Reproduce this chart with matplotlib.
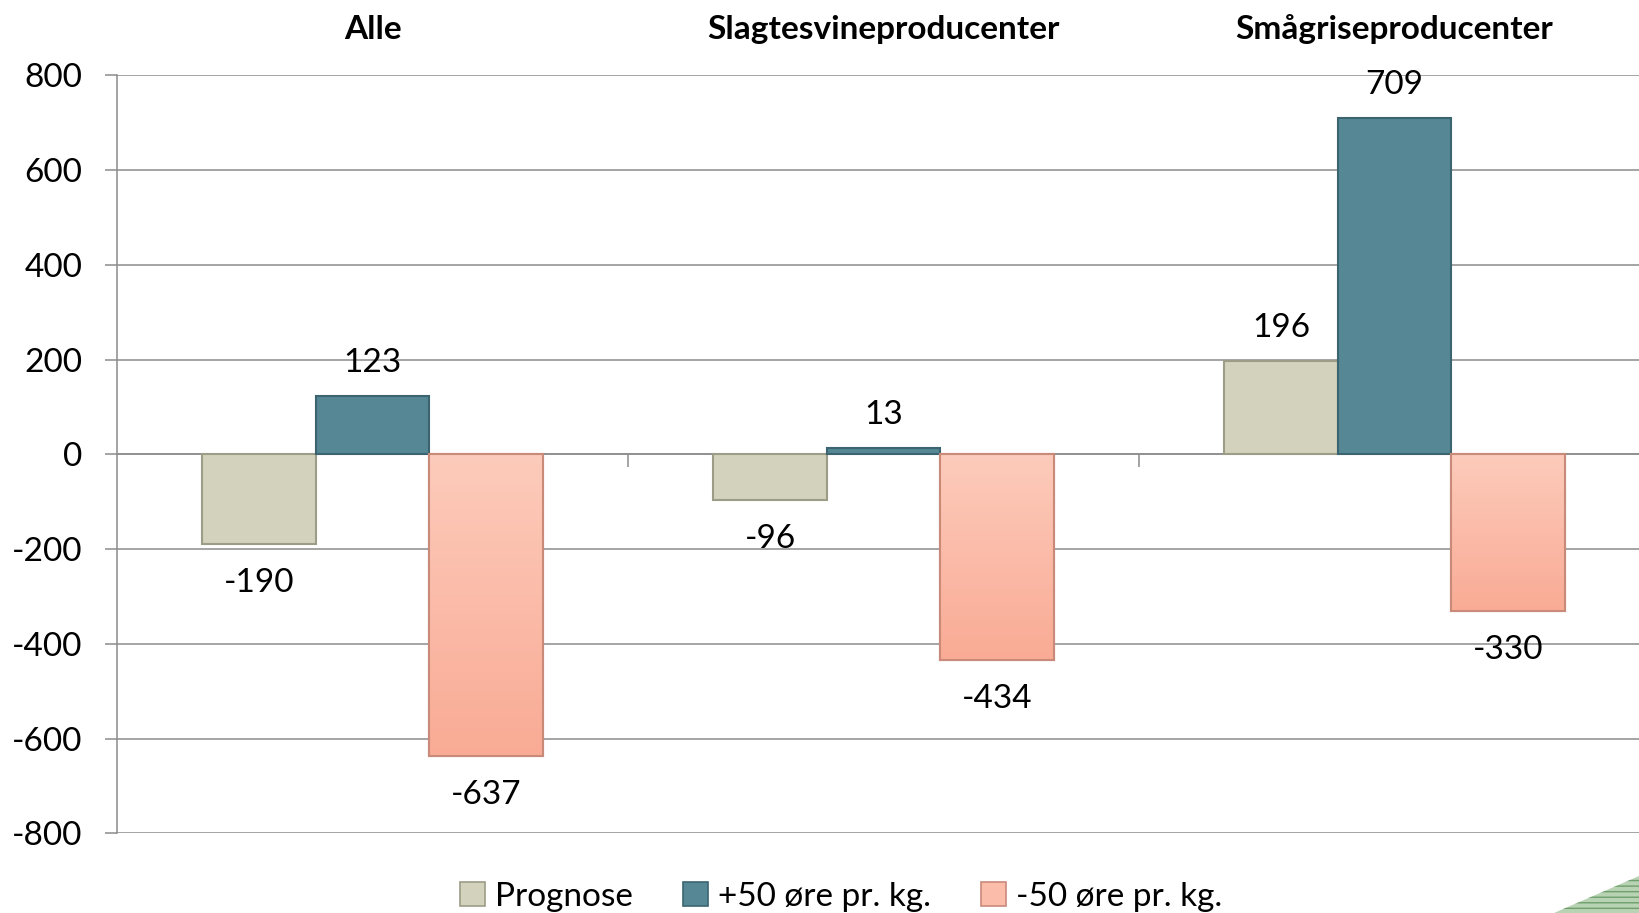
import numpy as np
import matplotlib.pyplot as plt
from matplotlib.patches import Polygon, Patch
from matplotlib.colors import LinearSegmentedColormap
from matplotlib.transforms import blended_transform_factory

plt.rcParams['font.family'] = ['Lato', 'DejaVu Sans']
plt.rcParams['hatch.color'] = "#6f9f6c"

groups = ["Alle", "Slagtesvineproducenter", "Smågriseproducenter"]
series = ["Prognose", "+50 øre pr. kg.", "-50 øre pr. kg."]
prognose = [-190, -96, 196]
plus50 = [123, 13, 709]
minus50 = [-637, -434, -330]
yticks = [-800, -600, -400, -200, 0, 200, 400, 600, 800]

faces = ["#d3d2bc", "#558894", "#fbbcaa"]
edges = ["#9d9c86", "#3b6470", "#c98a7a"]

fig = plt.figure(figsize=(16.39, 9.13), dpi=100)
ax = fig.add_axes([0.0714, 0.0872, 0.9353, 0.8303])

x = np.arange(len(groups))
w = 0.222
pink = LinearSegmentedColormap.from_list("pk", ["#fdcbbb", "#f9ab95"])
for k, vals in enumerate([prognose, plus50, minus50]):
    pos = x + (k - 1) * w
    bars = ax.bar(pos, vals, w, color=faces[k], edgecolor=edges[k],
                  linewidth=1.5, zorder=3, label=series[k])
    if k == 2:
        # soft vertical gradient on the pink bars, light near zero
        grad = np.linspace(0, 1, 256).reshape(-1, 1)
        for b in bars:
            x0, y0 = b.get_x(), b.get_y()
            im = ax.imshow(grad, cmap=pink, aspect="auto", origin="lower",
                           extent=[x0, x0 + b.get_width(), y0, y0 + b.get_height()],
                           zorder=3.1)
            im.set_clip_path(b)
            ax.bar(x0 + b.get_width() / 2, b.get_height(), b.get_width(),
                   fill=False, edgecolor=edges[k], linewidth=1.5, zorder=3.2)
    for px, v in zip(pos, vals):
        off = 24 if v >= 0 else -28
        ax.annotate(str(v), (px, v), xytext=(0, off), textcoords="offset points",
                    ha="center", va="center", fontsize=24, zorder=5)

ax.set_xlim(-0.5, 2.5)
ax.set_ylim(-800, 800)
ax.set_yticks(yticks)
ax.set_yticklabels([str(t) for t in yticks], fontsize=24)
ax.tick_params(axis="y", length=9, width=1.1, color="#8c8c8c", pad=16)
ax.grid(axis="y", color="#8c8c8c", linewidth=1.1, zorder=0)
ax.set_axisbelow(True)

ax.spines["top"].set_visible(False)
ax.spines["right"].set_visible(False)
ax.spines["left"].set_color("#8c8c8c")
ax.spines["left"].set_linewidth(1.1)
ax.spines["bottom"].set_position(("data", 0))
ax.spines["bottom"].set_color("#8c8c8c")
ax.spines["bottom"].set_linewidth(1.1)
ax.spines["bottom"].set_zorder(2)
ax.set_xticks([0.5, 1.5])
ax.set_xticklabels([])
ax.tick_params(axis="x", length=9, width=1.1, color="#8c8c8c", direction="out")

tr = blended_transform_factory(ax.transData, fig.transFigure)
for i, g in enumerate(groups):
    ax.text(i, 0.968, g, transform=tr, ha="center", va="center",
            fontsize=24, fontweight="bold", clip_on=False)

handles = [Patch(facecolor=faces[k], edgecolor=edges[k], linewidth=1.2) for k in range(3)]
fig.legend(handles, series, loc="center", bbox_to_anchor=(0.513, 0.018),
           ncol=3, frameon=False, fontsize=24, handlelength=0.75,
           handleheight=0.75, handletextpad=0.3, columnspacing=1.5)

# green striped corner decoration
tri = Polygon([[0.948, 0.0], [1.0, 0.0], [1.0, 0.04]], closed=True,
              transform=fig.transFigure, facecolor="#b7d3b3",
              edgecolor="#6f9f6c", hatch="---", linewidth=0)
fig.patches.append(tri)

fig.savefig("out.png", dpi=100)
